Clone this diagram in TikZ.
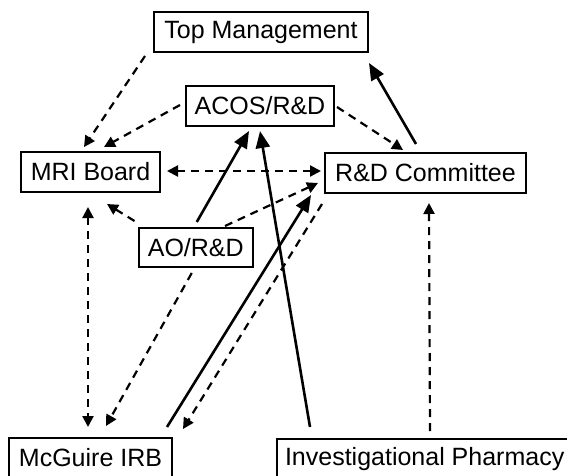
\documentclass[tikz,border=0pt]{standalone}
\usepackage{fontspec}
\setmainfont{Liberation Sans}
\usetikzlibrary{arrows.meta,calc}
\begin{document}
\begin{tikzpicture}[x=1pt,y=-1pt,
  box/.style={draw,line width=2pt,inner sep=0pt,minimum height=40pt,font=\fontsize{25}{30}\selectfont},
  sol/.style={line width=2.6pt,-{Triangle[length=17pt,width=14pt]}},
  das/.style={line width=2.2pt,dash pattern=on 8pt off 6pt,-{Triangle[length=11pt,width=11pt]}},
  dasb/.style={line width=2.2pt,dash pattern=on 8pt off 6pt,{Triangle[length=11pt,width=11pt]}-{Triangle[length=11pt,width=11pt]}}]
\useasboundingbox (0,0) rectangle (567,476);
\node[box,minimum width=214pt] (tm) at (261,32) {Top Management};
\node[box,minimum width=148pt] (acos) at (260,106) {ACOS/R\&D};
\node[box,minimum width=139pt] (mri) at (90.5,172) {MRI Board};
\node[box,minimum width=201pt] (rdc) at (425.5,173) {R\&D Committee};
\node[box,minimum width=114.5pt,minimum height=39pt] (ao) at (195.75,247.5) {AO/R\&D};
\node[box,minimum width=163pt] (irb) at (90.5,458) {McGuire IRB};
\node[box,anchor=west,inner xsep=8.5pt] (ip) at (275.5,459) {Investigational Pharmacy};
% connectors
\draw[das] ([shift={(-8,3)}]tm.south west) -- ([shift={(64,-4)}]mri.north west);
\draw[das] ([shift={(-5,-1)}]acos.west) -- ([shift={(84,-4)}]mri.north west);
\draw[das] ([shift={(2,1)}]acos.east) -- ([shift={(79,-2)}]rdc.north west);
\draw[sol] ([shift={(92,-8)}]rdc.north west) -- ([shift={(0,10)}]tm.south east);
\draw[dasb] ([shift={(6,-1)}]mri.east) -- ([shift={(-3,-2)}]rdc.west);
\draw[sol] ([shift={(1,-5)}]ao.north) -- ([shift={(-11,4)}]acos.south);
\draw[sol] ([shift={(34.5,-11)}]ip.north west) -- ([shift={(0,4)}]acos.south);
\draw[das] ([shift={(87.5,-1)}]ao.north west) -- ([shift={(-6,10)}]rdc.west);
\draw[das] ([shift={(-3,-6)}]ao.north west) -- ([shift={(87,11)}]mri.south west);
\draw[dasb] ([shift={(68,14)}]mri.south west) -- ([shift={(80,-10)}]irb.north west);
\draw[das] ([shift={(-4,5)}]ao.south) -- ([shift={(98,-11)}]irb.north west);
\draw[sol] ([shift={(-6,-10)}]irb.north east) -- ([shift={(-13,1)}]rdc.south west);
\draw[das] ([shift={(-2,10)}]rdc.south west) -- ([shift={(10,-8)}]irb.north east);
\draw[das] ([shift={(154.5,-7)}]ip.north west) -- ([shift={(105,9)}]rdc.south west);
\end{tikzpicture}
\end{document}
